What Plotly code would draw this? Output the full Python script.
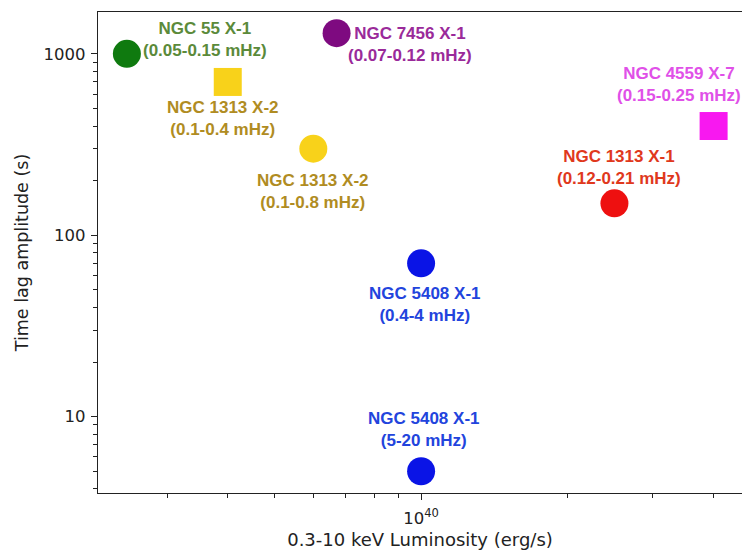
import math
import plotly.graph_objects as go

# ---- data ----
names = ["NGC 55 X-1", "NGC 1313 X-2", "NGC 7456 X-1", "NGC 1313 X-2",
         "NGC 5408 X-1", "NGC 5408 X-1", "NGC 1313 X-1", "NGC 4559 X-7"]
freqs = ["(0.05-0.15 mHz)", "(0.1-0.4 mHz)", "(0.07-0.12 mHz)", "(0.1-0.8 mHz)",
         "(0.4-4 mHz)", "(5-20 mHz)", "(0.12-0.21 mHz)", "(0.15-0.25 mHz)"]
luminosity = [2.48e39, 4.0e39, 6.7e39, 6.0e39, 1.0e40, 1.0e40, 2.5e40, 4.0e40]
time_lag = [1000, 700, 1300, 300, 70, 5, 150, 400]

x_tickvals = [1e40]
x_ticktext = ["10<sup>40</sup>"]
y_tickvals = [10, 100, 1000]
y_ticktext = ["10", "100", "1000"]

# ---- styles ----
symbols = ["circle", "square", "circle", "circle", "circle", "circle", "circle", "square"]
marker_colors = ["#0f7a0f", "#f8d21a", "#7e0a80", "#f8d21a", "#0a14e6", "#0a14e6", "#ee1010", "#f818f0"]
text_colors = ["#5b8a3a", "#b08c22", "#9a2a9a", "#b08c22", "#2244dd", "#2244dd", "#e0381c", "#e050e8"]
label_dx = [78, -5, 73, 0, 4, 3, 5, -35]
label_dy = [14, -37, -11, -43, -41, 42, 36, 42]

fig = go.Figure()
for i in range(len(names)):
    fig.add_trace(go.Scatter(
        x=[luminosity[i]], y=[time_lag[i]], mode="markers",
        marker=dict(symbol=symbols[i], size=28, color=marker_colors[i], line=dict(width=0)),
        showlegend=False, hoverinfo="skip"))
    fig.add_annotation(
        x=math.log10(luminosity[i]), y=math.log10(time_lag[i]),
        xref="x", yref="y", text=f"<b>{names[i]}</b><br><b>{freqs[i]}</b>",
        showarrow=False, xanchor="center", yanchor="middle",
        xshift=label_dx[i], yshift=label_dy[i],
        font=dict(family="Liberation Sans, Arial, sans-serif", size=17, color=text_colors[i]))

def minor_vals(decades):
    out = []
    for d in decades:
        for m in range(2, 10):
            out.append(float(m) * 10.0 ** d)
    return out

fig.update_layout(
    width=742, height=554,
    margin=dict(l=98, r=0, t=12, b=61),
    paper_bgcolor="white", plot_bgcolor="white",
    font=dict(family="DejaVu Sans", size=16, color="#222"),
)
fig.update_xaxes(
    type="log", range=[39.335, 40.6605],
    tickmode="array", tickvals=x_tickvals, ticktext=x_ticktext,
    ticks="outside", ticklen=6, tickwidth=1, tickcolor="#222",
    minor=dict(tickvals=minor_vals([39, 40]), ticks="outside", ticklen=3.5, tickcolor="#222", tickwidth=1),
    showgrid=False, zeroline=False,
    showline=True, linecolor="#222", linewidth=1.3, mirror=True,
    title=dict(text="0.3-10 keV Luminosity (erg/s)", font=dict(size=18), standoff=6),
    tickfont=dict(size=16.5), ticklabelstandoff=4,
)
fig.update_yaxes(
    type="log", range=[0.579, 3.2307],
    tickmode="array", tickvals=y_tickvals, ticktext=y_ticktext,
    ticks="outside", ticklen=6, tickwidth=1, tickcolor="#222",
    minor=dict(tickvals=minor_vals([0, 1, 2, 3]), ticks="outside", ticklen=3.5, tickcolor="#222", tickwidth=1),
    showgrid=False, zeroline=False,
    showline=True, linecolor="#222", linewidth=1.3, mirror=False,
    title=dict(text="Time lag amplitude (s)", font=dict(size=17.5), standoff=10),
    tickfont=dict(size=16.5), ticklabelstandoff=2,
)

fig.write_html("out.html")
